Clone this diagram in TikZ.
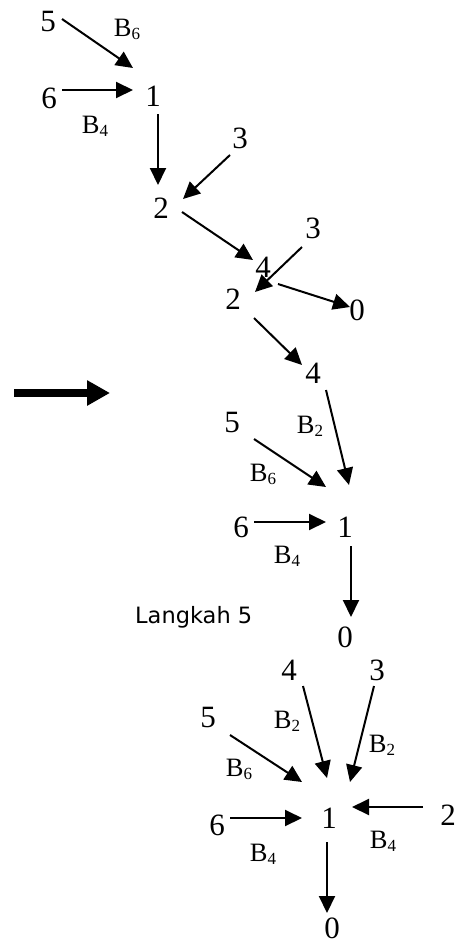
\documentclass[tikz,border=0pt]{standalone}
\usepackage{fontspec}
\setmainfont{Liberation Serif}
\newfontfamily\stepfont{DejaVu Sans}
\usetikzlibrary{arrows.meta}
\newcommand\bl[1]{B\raisebox{-3pt}{\fontsize{17}{17}\selectfont #1}}

\begin{document}
\begin{tikzpicture}[x=1pt, y=-1pt,
          num/.style={inner sep=0pt, font=\fontsize{31}{32}\selectfont},
          lbl/.style={inner sep=0pt, anchor=base, font=\fontsize{26.5}{27}\selectfont},
          arr/.style={line width=2pt, -{Triangle[length=17pt,width=16pt]}},
          bigarr/.style={line width=8.5pt, -{Triangle[length=23pt,width=24pt]}}]
        \useasboundingbox (0,0) rectangle (462,945);
        % first tree
        \node[num] (t5) at (48,22) {5};
        \node[num] (t6) at (49,98) {6};
        \node[num] (t1) at (153,96) {1};
        \node[num] (t3a) at (240,138) {3};
        \node[num] (t2a) at (161,208) {2};
        \node[num] (t4) at (263,267) {4};
        \node[num] (t3b) at (313,228) {3};
        \node[num] (t2b) at (233,299) {2};
        \node[num] (t0) at (357,310) {0};
        \node[lbl] (tB6) at (127,36) {\bl{6}};
        \node[lbl] (tB4) at (95,133) {\bl{4}};
        \draw[arr] ([shift={(14,-3)}]t5.center) -- ([shift={(-20,-28)}]t1.center);
        \draw[arr] ([shift={(13,-8)}]t6.center) -- ([shift={(-20,-6)}]t1.center);
        \draw[arr] ([shift={(5,18)}]t1.center) -- ([shift={(-3,-23)}]t2a.center);
        \draw[arr] ([shift={(-10,17)}]t3a.center) -- ([shift={(22,-9)}]t2a.center);
        \draw[arr] ([shift={(21,4)}]t2a.center) -- ([shift={(-10,-7)}]t4.center);
        \draw[arr] ([shift={(-11,19)}]t3b.center) -- ([shift={(22,-7)}]t2b.center);
        \draw[arr] ([shift={(45,-15)}]t2b.center) -- ([shift={(-7,-3)}]t0.center);
        % second tree
        \node[num] (m4) at (313,373) {4};
        \node[num] (m5) at (232,422) {5};
        \node[num] (m6) at (241,527) {6};
        \node[num] (m1) at (345,527) {1};
        \node[num] (m0) at (345,637) {0};
        \node[lbl] (mB2) at (310,433) {\bl{2}};
        \node[lbl] (mB6) at (263,481) {\bl{6}};
        \node[lbl] (mB4) at (287,563) {\bl{4}};
        \draw[arr] ([shift={(21,19)}]t2b.center) -- ([shift={(-11,-8)}]m4.center);
        \draw[arr] ([shift={(13,17)}]m4.center) -- ([shift={(4,-42)}]m1.center);
        \draw[arr] ([shift={(22,17)}]m5.center) -- ([shift={(-19,-40)}]m1.center);
        \draw[arr] ([shift={(13,-5)}]m6.center) -- ([shift={(-19,-5)}]m1.center);
        \draw[arr] ([shift={(6,19)}]m1.center) -- ([shift={(6,-20)}]m0.center);
        \coordinate (go) at (14,393);
        \coordinate (to) at (110,393);
        \draw[bigarr] (go) -- (to);
        \node[inner sep=0pt, anchor=base west, font=\stepfont\fontsize{22.5}{24}\selectfont] (step) at (135,623) {Langkah 5};
        % step 5
        \node[num] (b4) at (289,670) {4};
        \node[num] (b3) at (377,670) {3};
        \node[num] (b5) at (208,717) {5};
        \node[num] (b1) at (329,818) {1};
        \node[num] (b2) at (448,815) {2};
        \node[num] (b6) at (217,825) {6};
        \node[num] (b0) at (332,928) {0};
        \node[lbl] (bB2l) at (287,728) {\bl{2}};
        \node[lbl] (bB2r) at (382,752) {\bl{2}};
        \node[lbl] (bB6) at (239,776) {\bl{6}};
        \node[lbl] (bB4l) at (263,861) {\bl{4}};
        \node[lbl] (bB4r) at (383,848) {\bl{4}};
        \draw[arr] ([shift={(14,16)}]b4.center) -- ([shift={(-2,-40)}]b1.center);
        \draw[arr] ([shift={(-3,16)}]b3.center) -- ([shift={(21,-36)}]b1.center);
        \draw[arr] ([shift={(22,18)}]b5.center) -- ([shift={(-27,-36)}]b1.center);
        \draw[arr] ([shift={(-25,-8)}]b2.center) -- ([shift={(23,-11)}]b1.center);
        \draw[arr] ([shift={(13,-7)}]b6.center) -- ([shift={(-27,0)}]b1.center);
        \draw[arr] ([shift={(-2,24)}]b1.center) -- ([shift={(-5,-15)}]b0.center);
      \end{tikzpicture}
\end{document}
